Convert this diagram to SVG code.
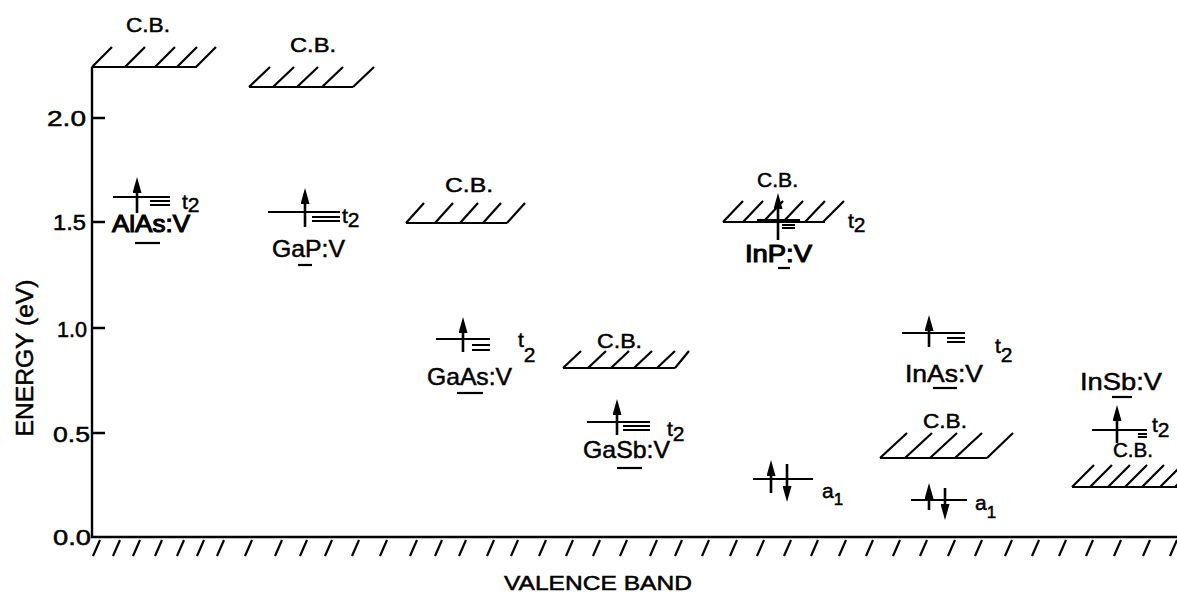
<svg xmlns="http://www.w3.org/2000/svg" width="1177" height="592" viewBox="0 0 1177 592">
<style>
text{font-family:"Liberation Sans",Arial,sans-serif;fill:#000;stroke:#000;stroke-width:0.5}
.ln{stroke:#000;stroke-width:2.2;fill:none}
.ax{stroke:#000;stroke-width:2.4;fill:none}
.lv{stroke:#000;stroke-width:2.2;fill:none}
.ar{stroke:#000;stroke-width:2.6;fill:none;marker-end:url(#ah)}
.cb{font-size:21px}
.lab{font-size:24px}
.b{stroke-width:1.1}
.tk{font-size:22px}
.sm{font-size:21px}
</style>
<defs>
<marker id="ah" viewBox="0 0 16 9" refX="9" refY="4.5" markerWidth="16" markerHeight="9" markerUnits="userSpaceOnUse" orient="auto">
<path d="M0,0 L16,4.5 L0,9 z" fill="#000"/>
</marker>
</defs>
<rect width="1177" height="592" fill="#fff"/>

<g id="axes">
<path class="ax" d="M92,67 V537 H1177"/>
<path class="ax" d="M92,118 H105 M92,222 H105 M92,328 H105 M92,433 H105"/>
<text class="tk" x="47" y="126" textLength="39" lengthAdjust="spacingAndGlyphs">2.0</text>
<text class="tk" x="53" y="230" textLength="33" lengthAdjust="spacingAndGlyphs">1.5</text>
<text class="tk" x="57" y="337" textLength="30" lengthAdjust="spacingAndGlyphs">1.0</text>
<text class="tk" x="53" y="442" textLength="37" lengthAdjust="spacingAndGlyphs">0.5</text>
<text class="tk" x="53" y="545" textLength="38" lengthAdjust="spacingAndGlyphs">0.0</text>
<text x="0" y="0" font-size="24" text-anchor="middle" textLength="157" lengthAdjust="spacingAndGlyphs" transform="translate(33,358) rotate(-90)">ENERGY (eV)</text>
<path class="ln" d="M93,556 l7,-16 M113,556 l7,-16 M133,556 l7,-16 M155,556 l7,-16 M177,556 l7,-16 M197,556 l7,-16 M217,556 l7,-16 M245,556 l7,-16 M275,556 l7,-16 M300,556 l7,-16 M325,556 l7,-16 M352,556 l7,-16 M380,556 l7,-16 M410,556 l7,-16 M435,556 l7,-16 M459,556 l7,-16 M487,556 l7,-16 M511,556 l7,-16 M539,556 l7,-16 M566,556 l7,-16 M593,556 l7,-16 M620,556 l7,-16 M650,556 l7,-16 M675,556 l7,-16 M702,556 l7,-16 M730,556 l7,-16 M757,556 l7,-16 M784,556 l7,-16 M811,556 l7,-16 M839,556 l7,-16 M866,556 l7,-16 M893,556 l7,-16 M920,556 l7,-16 M948,556 l7,-16 M975,556 l7,-16 M1005,556 l7,-16 M1032,556 l7,-16 M1059,556 l7,-16 M1086,556 l7,-16 M1114,556 l7,-16 M1143,556 l7,-16 M1170,556 l7,-16"/>
<text x="504" y="590" font-size="21" textLength="188" lengthAdjust="spacingAndGlyphs">VALENCE BAND</text>
</g>

<g id="AlAs">
<path class="ln" d="M92,67 H197 M92,67 l20,-20 M125,67 l20,-20 M155,67 l20,-20 M177,67 l20,-20 M196,67 l20,-20"/>
<text class="cb" x="126" y="32" textLength="44" lengthAdjust="spacingAndGlyphs">C.B.</text>
<path class="lv" d="M113,197 H170 M150,201 H170 M150,205 H170"/>
<path class="ar" d="M137,213 V184"/>
<text class="sm" x="182" y="209">t<tspan dy="3">2</tspan></text>
<text class="lab b" x="112" y="232" textLength="78" lengthAdjust="spacingAndGlyphs">AlAs:V</text>
<path class="lv" d="M135,243 H160"/>
</g>

<g id="GaP">
<path class="ln" d="M249,87 H353 M249,87 l21,-20 M273,87 l21,-20 M297,87 l21,-20 M322,87 l21,-20 M353,87 l21,-20"/>
<text class="cb" x="290" y="52" textLength="46" lengthAdjust="spacingAndGlyphs">C.B.</text>
<path class="lv" d="M268,212 H340 M312,217 H340 M312,221 H340"/>
<path class="ar" d="M305,227 V195"/>
<text class="sm" x="342" y="223">t<tspan dy="4">2</tspan></text>
<text class="lab" x="272" y="257" textLength="73" lengthAdjust="spacingAndGlyphs">GaP:V</text>
<path class="lv" d="M298,265 H312"/>
</g>

<g id="GaAs">
<path class="ln" d="M406,223 H507 M406,223 l18,-20 M435,223 l18,-20 M460,223 l18,-20 M483,223 l18,-20 M507,223 l18,-20"/>
<text class="cb" x="445" y="192" textLength="48" lengthAdjust="spacingAndGlyphs">C.B.</text>
<path class="lv" d="M436,339 H490 M472,345 H490 M472,350 H490"/>
<path class="ar" d="M463,352 V324"/>
<text class="sm" x="518" y="347">t<tspan dy="15">2</tspan></text>
<text class="lab" x="427" y="385" textLength="85" lengthAdjust="spacingAndGlyphs">GaAs:V</text>
<path class="lv" d="M457,393 H483"/>
</g>

<g id="GaSb">
<path class="ln" d="M563,368 H675 M563,368 l18,-17 M588,368 l18,-17 M611,368 l18,-17 M634,368 l18,-17 M657,368 l18,-17 M675,368 l14,-17"/>
<text class="cb" x="597" y="348" textLength="45" lengthAdjust="spacingAndGlyphs">C.B.</text>
<path class="lv" d="M587,422 H650 M623,426 H650 M623,430 H650"/>
<path class="ar" d="M617,435 V406"/>
<text class="sm" x="667" y="436">t<tspan dy="5">2</tspan></text>
<text class="lab" x="583" y="458" textLength="87" lengthAdjust="spacingAndGlyphs">GaSb:V</text>
<path class="lv" d="M617,468 H642"/>
</g>

<g id="InP">
<path class="ln" d="M723,222 H825 M723,222 l20,-21 M743,222 l20,-21 M763,222 l20,-21 M783,222 l20,-21 M805,222 l20,-21 M823,222 l21,-21"/>
<text class="cb" x="757" y="187" textLength="41" lengthAdjust="spacingAndGlyphs">C.B.</text>
<path class="lv" d="M757,220 H800 M782,225 H795 M782,228 H795"/>
<path class="ar" d="M778,240 V200"/>
<text class="sm" x="848" y="228">t<tspan dy="4">2</tspan></text>
<text class="lab b" x="745" y="262" textLength="67" lengthAdjust="spacingAndGlyphs">InP:V</text>
<path class="lv" d="M778,268 H790"/>
<path class="lv" d="M753,479 H813"/>
<path class="ar" d="M771,493 V467"/>
<path class="ar" d="M787,464 V495"/>
<text class="sm" x="822" y="498">a<tspan dy="7" font-size="17">1</tspan></text>
</g>

<g id="InAs">
<path class="ln" d="M880,458 H987 M880,458 l27,-25 M905,458 l27,-25 M930,458 l27,-25 M955,458 l27,-25 M987,458 l26,-25"/>
<text class="cb" x="923" y="428" textLength="44" lengthAdjust="spacingAndGlyphs">C.B.</text>
<path class="lv" d="M902,333 H965 M947,338 H965 M947,342 H965"/>
<path class="ar" d="M929,347 V322"/>
<text class="sm" x="995" y="353">t<tspan dy="9">2</tspan></text>
<text class="lab" x="905" y="382" textLength="78" lengthAdjust="spacingAndGlyphs">InAs:V</text>
<path class="lv" d="M933,388 H957"/>
<path class="lv" d="M911,500 H967"/>
<path class="ar" d="M929,510 V490"/>
<path class="ar" d="M945,488 V513"/>
<text class="sm" x="975" y="510">a<tspan dy="8" font-size="17">1</tspan></text>
</g>

<g id="InSb">
<text class="lab" x="1080" y="390" textLength="82" lengthAdjust="spacingAndGlyphs">InSb:V</text>
<path class="lv" d="M1112,397 H1132"/>
<path class="lv" d="M1092,430 H1147 M1138,434 H1147 M1138,437 H1147"/>
<path class="ar" d="M1117,443 V412"/>
<text class="sm" x="1152" y="432">t<tspan dy="5">2</tspan></text>
<text class="cb" x="1113" y="457" textLength="40" lengthAdjust="spacingAndGlyphs">C.B.</text>
<path class="ln" d="M1072,487 H1177 M1072,487 l22,-22 M1090,487 l22,-22 M1108,487 l22,-22 M1125,487 l22,-22 M1142,487 l22,-22 M1160,487 l22,-22 M1175,487 l22,-22"/>
</g>
</svg>
